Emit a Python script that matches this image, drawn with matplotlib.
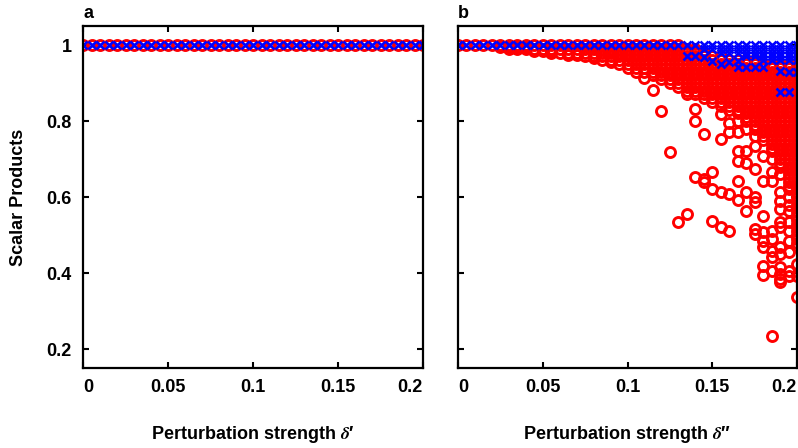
import matplotlib
matplotlib.use('Agg')
import matplotlib.pyplot as plt

plt.rcParams['font.family'] = ['Liberation Sans', 'DejaVu Sans']
plt.rcParams['font.weight'] = 'bold'
plt.rcParams['mathtext.fontset'] = 'stix'

# perturbation strengths (same grid in both panels)
x_vals = [0.000, 0.005, 0.010, 0.015, 0.020, 0.025, 0.030, 0.035, 0.040, 0.045,
          0.050, 0.055, 0.060, 0.065, 0.070, 0.075, 0.080, 0.085, 0.090, 0.095,
          0.100, 0.105, 0.110, 0.115, 0.120, 0.125, 0.130, 0.135, 0.140, 0.145,
          0.150, 0.155, 0.160, 0.165, 0.170, 0.175, 0.180, 0.185, 0.190, 0.195,
          0.200]

# panel a: every scalar product stays at 1
red_a = [1.0, 1.0, 1.0, 1.0, 1.0, 1.0, 1.0, 1.0, 1.0, 1.0, 1.0, 1.0, 1.0, 1.0,
         1.0, 1.0, 1.0, 1.0, 1.0, 1.0, 1.0, 1.0, 1.0, 1.0, 1.0, 1.0, 1.0, 1.0,
         1.0, 1.0, 1.0, 1.0, 1.0, 1.0, 1.0, 1.0, 1.0, 1.0, 1.0, 1.0, 1.0]
blue_a = [1.0, 1.0, 1.0, 1.0, 1.0, 1.0, 1.0, 1.0, 1.0, 1.0, 1.0, 1.0, 1.0, 1.0,
          1.0, 1.0, 1.0, 1.0, 1.0, 1.0, 1.0, 1.0, 1.0, 1.0, 1.0, 1.0, 1.0, 1.0,
          1.0, 1.0, 1.0, 1.0, 1.0, 1.0, 1.0, 1.0, 1.0, 1.0, 1.0, 1.0, 1.0]

# panel b: values read per column (one list per x value)
red_b = [
    [1.0], [1.0], [1.0], [1.0], [1.0],
    [1.0, 0.995],
    [1.0, 0.995, 0.99],
    [1.0, 0.995, 0.99],
    [1.0, 0.995, 0.99],
    [1.0, 0.99, 0.985],
    [1.0, 0.99, 0.985],
    [1.0, 0.99, 0.985, 0.98],
    [1.0, 0.99, 0.98],
    [1.0, 0.99, 0.98, 0.975],
    [1.0, 0.99, 0.98, 0.975],
    [1.0, 0.99, 0.98, 0.97],
    [1.0, 0.99, 0.98, 0.97, 0.965],
    [1.0, 0.99, 0.98, 0.97, 0.96],
    [1.0, 0.99, 0.98, 0.97, 0.96, 0.955],
    [1.0, 0.99, 0.98, 0.97, 0.96, 0.95],
    [1.0, 0.99, 0.98, 0.97, 0.96, 0.95, 0.94],
    [1.0, 0.99, 0.98, 0.97, 0.96, 0.95, 0.94, 0.93],
    [1.0, 0.99, 0.98, 0.97, 0.96, 0.95, 0.94, 0.93, 0.913],
    [1.0, 0.99, 0.98, 0.97, 0.96, 0.95, 0.94, 0.93, 0.92, 0.882],
    [1.0, 0.99, 0.98, 0.97, 0.96, 0.95, 0.94, 0.93, 0.92, 0.91, 0.827],
    [1.0, 0.99, 0.98, 0.97, 0.96, 0.95, 0.94, 0.93, 0.92, 0.91, 0.90, 0.719],
    [1.0, 0.99, 0.98, 0.97, 0.96, 0.95, 0.94, 0.93, 0.92, 0.91, 0.90, 0.89,
     0.533],
    [0.99, 0.98, 0.97, 0.96, 0.95, 0.94, 0.93, 0.92, 0.91, 0.90, 0.89, 0.88,
     0.871, 0.555],
    [0.99, 0.98, 0.97, 0.96, 0.95, 0.94, 0.93, 0.92, 0.91, 0.90, 0.89, 0.88,
     0.87, 0.832, 0.80, 0.652],
    [0.98, 0.97, 0.96, 0.95, 0.94, 0.93, 0.92, 0.91, 0.90, 0.89, 0.88, 0.87,
     0.86, 0.766, 0.647, 0.64],
    [0.97, 0.96, 0.95, 0.94, 0.93, 0.92, 0.91, 0.90, 0.89, 0.88, 0.87, 0.86,
     0.85, 0.667, 0.62, 0.538],
    [0.97, 0.96, 0.95, 0.94, 0.93, 0.92, 0.91, 0.90, 0.89, 0.88, 0.87, 0.86,
     0.85, 0.84, 0.818, 0.753, 0.613, 0.522],
    [0.96, 0.95, 0.94, 0.93, 0.92, 0.91, 0.90, 0.89, 0.88, 0.87, 0.86, 0.85,
     0.84, 0.83, 0.795, 0.77, 0.608, 0.511],
    [0.96, 0.95, 0.94, 0.93, 0.92, 0.91, 0.90, 0.89, 0.88, 0.87, 0.86, 0.85,
     0.84, 0.83, 0.82, 0.80, 0.77, 0.72, 0.695, 0.642, 0.593],
    [0.96, 0.95, 0.94, 0.93, 0.92, 0.91, 0.90, 0.89, 0.88, 0.87, 0.86, 0.85,
     0.84, 0.83, 0.82, 0.81, 0.80, 0.78, 0.72, 0.69, 0.614, 0.564],
    [0.96, 0.95, 0.94, 0.93, 0.92, 0.91, 0.90, 0.89, 0.88, 0.87, 0.86, 0.85,
     0.84, 0.83, 0.82, 0.81, 0.80, 0.79, 0.78, 0.76, 0.735, 0.673, 0.60,
     0.587, 0.516, 0.503],
    [0.95, 0.94, 0.93, 0.92, 0.91, 0.90, 0.89, 0.88, 0.87, 0.86, 0.85, 0.84,
     0.83, 0.82, 0.81, 0.80, 0.79, 0.78, 0.77, 0.76, 0.75, 0.708, 0.642,
     0.549, 0.508, 0.484, 0.468, 0.418, 0.395],
    [0.95, 0.94, 0.93, 0.92, 0.91, 0.90, 0.89, 0.88, 0.87, 0.86, 0.85, 0.84,
     0.83, 0.82, 0.81, 0.80, 0.79, 0.78, 0.77, 0.76, 0.75, 0.74, 0.73, 0.72,
     0.70, 0.666, 0.642, 0.511, 0.49, 0.458, 0.442, 0.405, 0.234],
    [0.95, 0.94, 0.93, 0.92, 0.91, 0.90, 0.89, 0.88, 0.87, 0.86, 0.85, 0.84,
     0.83, 0.82, 0.81, 0.80, 0.79, 0.78, 0.77, 0.76, 0.75, 0.74, 0.73, 0.72,
     0.71, 0.70, 0.69, 0.68, 0.66, 0.613, 0.589, 0.568, 0.534, 0.521, 0.468,
     0.45, 0.416, 0.397, 0.384, 0.376],
    [0.95, 0.94, 0.93, 0.92, 0.91, 0.90, 0.89, 0.88, 0.87, 0.86, 0.85, 0.84,
     0.83, 0.82, 0.81, 0.80, 0.79, 0.78, 0.77, 0.76, 0.75, 0.74, 0.73, 0.72,
     0.71, 0.70, 0.69, 0.68, 0.67, 0.66, 0.65, 0.64, 0.63, 0.62, 0.60, 0.58,
     0.563, 0.535, 0.51, 0.484, 0.455, 0.405, 0.392],
    [0.95, 0.94, 0.93, 0.92, 0.91, 0.90, 0.89, 0.88, 0.87, 0.86, 0.85, 0.84,
     0.83, 0.82, 0.81, 0.80, 0.79, 0.78, 0.77, 0.76, 0.75, 0.74, 0.73, 0.72,
     0.71, 0.70, 0.69, 0.68, 0.67, 0.66, 0.65, 0.64, 0.63, 0.62, 0.61, 0.60,
     0.59, 0.58, 0.57, 0.56, 0.55, 0.54, 0.53, 0.52, 0.51, 0.50, 0.49, 0.48,
     0.47, 0.424, 0.392, 0.337],
]

blue_b = [
    [1.0], [1.0], [1.0], [1.0], [1.0], [1.0], [1.0], [1.0], [1.0], [1.0],
    [1.0], [1.0], [1.0], [1.0], [1.0], [1.0], [1.0], [1.0], [1.0], [1.0],
    [1.0], [1.0], [1.0], [1.0], [1.0], [1.0], [1.0],
    [1.0, 0.97],
    [1.0, 0.97],
    [1.0, 0.99, 0.968],
    [1.0, 0.99, 0.958],
    [1.0, 0.99, 0.98, 0.95],
    [1.0, 0.99, 0.98, 0.955],
    [1.0, 0.99, 0.98, 0.958, 0.942],
    [1.0, 0.99, 0.98, 0.97, 0.942],
    [1.0, 0.99, 0.98, 0.97, 0.942],
    [1.0, 0.99, 0.98, 0.97, 0.96, 0.942],
    [1.0, 0.99, 0.98, 0.97, 0.96],
    [1.0, 0.99, 0.98, 0.97, 0.96, 0.932, 0.876],
    [1.0, 0.99, 0.98, 0.97, 0.96, 0.929, 0.876],
    [1.0, 0.99, 0.98, 0.97, 0.96, 0.93],
]

x_ticks = [0, 0.05, 0.1, 0.15, 0.2]
x_tick_labels = ['0', '0.05', '0.1', '0.15', '0.2']
y_ticks = [0.2, 0.4, 0.6, 0.8, 1.0]
y_tick_labels = ['0.2', '0.4', '0.6', '0.8', '1']


def flatten(cols):
    xs, ys = [], []
    for xv, col in zip(x_vals, cols):
        xs += [xv] * len(col)
        ys += col
    return xs, ys


fig = plt.figure(figsize=(7.98, 4.48), dpi=100)
ax_a = fig.add_axes([83 / 798, 1 - 368 / 448, 340 / 798, 342 / 448])
ax_b = fig.add_axes([458 / 798, 1 - 368 / 448, 339 / 798, 342 / 448])

circ = dict(marker='o', linestyle='none', color='#ff0000', markersize=7.2,
            markeredgewidth=2.1, markerfacecolor='none')
cross = dict(marker='x', linestyle='none', color='#0000ff', markersize=5.2,
             markeredgewidth=1.9)

ax_a.plot(x_vals, red_a, **circ)
ax_a.plot(x_vals, blue_a, **cross)

rx, ry = flatten(red_b)
bx, by = flatten(blue_b)
ax_b.plot(rx, ry, **circ)
ax_b.plot(bx, by, **cross)

for ax, name, prime in [(ax_a, 'a', '\u2032'), (ax_b, 'b', '\u2033')]:
    ax.set_xlim(0, 0.2)
    ax.set_ylim(0.15, 1.05)
    ax.set_xticks(x_ticks)
    ax.set_xticklabels(x_tick_labels, fontsize=13, fontweight='bold')
    labs = ax.get_xticklabels()
    labs[0].set_horizontalalignment('left')
    labs[-1].set_horizontalalignment('right')
    ax.set_yticks(y_ticks)
    ax.tick_params(direction='in', length=4, width=1.5, top=True, right=True,
                   pad=8)
    for sp in ax.spines.values():
        sp.set_linewidth(1.6)
    ax.set_xlabel('Perturbation strength $\\delta$' + prime, fontsize=13,
                  fontweight='bold', labelpad=20)
    ax.text(0, 1.012, name, transform=ax.transAxes, ha='left', va='bottom',
            fontsize=13, fontweight='bold')

ax_a.set_yticklabels(y_tick_labels, fontsize=13, fontweight='bold')
ax_b.set_yticklabels([])
ax_a.set_ylabel('Scalar Products', fontsize=13, fontweight='bold', labelpad=14)

fig.savefig('out.png', dpi=100)
